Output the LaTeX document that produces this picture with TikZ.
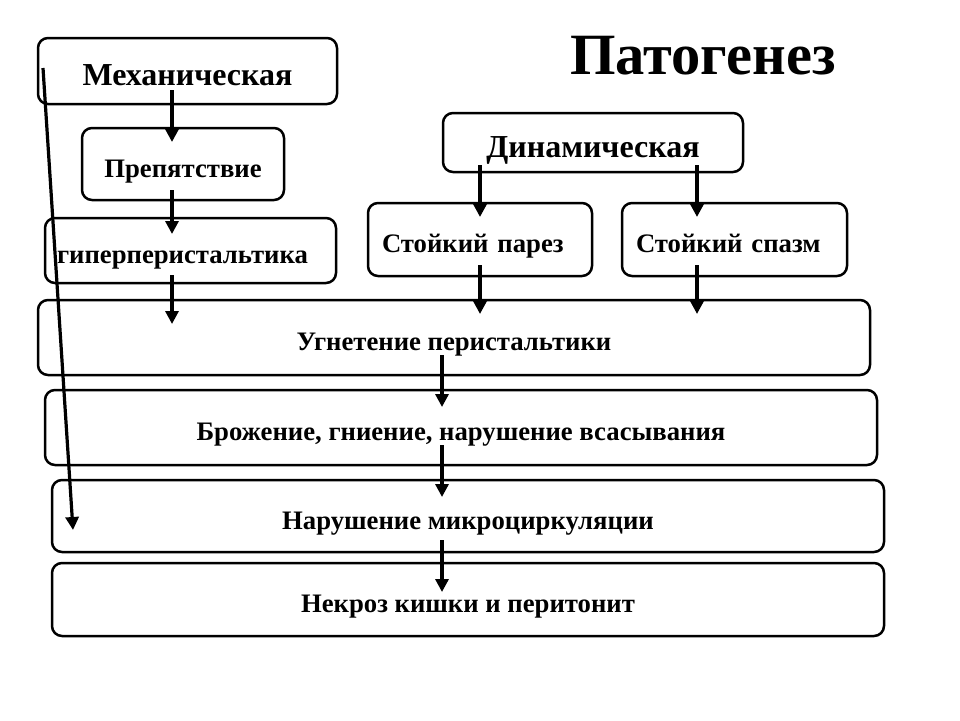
\documentclass[tikz,border=0pt]{standalone}
\usepackage{fontspec}
\setmainfont{Liberation Serif}
\usetikzlibrary{arrows.meta}
\begin{document}
\begin{tikzpicture}[x=1pt,y=-1pt,
  box/.style={draw=black, line width=2.5pt, rounded corners=10pt, fill=white, inner sep=0pt, align=center},
  big/.style={font=\bfseries\fontsize{32}{36}\selectfont, text height=36.5pt, text depth=7.5pt},
  med/.style={font=\bfseries\fontsize{26.7}{30}\selectfont, text height=32pt, text depth=6pt},
  arr/.style={line width=3.2pt, -{Triangle[width=13pt,length=13pt]}}]
\useasboundingbox (0,0) rectangle (960,720);
\node[font=\bfseries\fontsize{58.5}{64}\selectfont] (title) at (703,56) {Патогенез};
\node[box,big,minimum width=299pt,minimum height=66pt] (mech) at (187.5,71) {Механическая};
\node[box,med,minimum width=202pt,minimum height=72pt] (prep) at (183,164) {Препятствие};
\node[box,med,minimum width=291pt,minimum height=65pt] (giper) at (190.5,250.5) {\hspace*{-16pt}гиперперистальтика};
\node[box,big,minimum width=300pt,minimum height=59pt] (dyn) at (593,142.5) {Динамическая};
\node[box,med,minimum width=224pt,minimum height=73pt,text width=196pt,align=left] (pares) at (480,239.5) {Стойкий парез};
\node[box,med,minimum width=225pt,minimum height=73pt,text width=197pt,align=left] (spasm) at (734.5,239.5) {Стойкий спазм};
\node[box,med,minimum width=832pt,minimum height=75pt] (ugn) at (454,337.5) {Угнетение перистальтики};
\node[box,med,minimum width=832pt,minimum height=75pt] (brozh) at (461,427.5) {Брожение, гниение, нарушение всасывания};
\node[box,med,minimum width=832pt,minimum height=72pt] (narush) at (468,516) {Нарушение микроциркуляции};
\node[box,med,minimum width=832pt,minimum height=73pt] (nekr) at (468,599.5) {Некроз кишки и перитонит};
% arrow end points
\path (172,90) coordinate (m1s) (172,142) coordinate (m1e)
      (172,190) coordinate (m2s) (172,234) coordinate (m2e)
      (172,275) coordinate (m3s) (172,324) coordinate (m3e)
      (480,165) coordinate (d1s) (480,217) coordinate (d1e)
      (697,165) coordinate (d2s) (697,217) coordinate (d2e)
      (480,265) coordinate (p1s) (480,314) coordinate (p1e)
      (697,265) coordinate (s1s) (697,314) coordinate (s1e)
      (442,355) coordinate (u1s) (442,407) coordinate (u1e)
      (442,445) coordinate (b1s) (442,497) coordinate (b1e)
      (442,540) coordinate (n1s) (442,592) coordinate (n1e)
      (43,68) coordinate (ls) (73,530) coordinate (le);
\draw[arr] (m1s) -- (m1e);
\draw[arr] (m2s) -- (m2e);
\draw[arr] (m3s) -- (m3e);
\draw[arr] (d1s) -- (d1e);
\draw[arr] (d2s) -- (d2e);
\draw[arr] (p1s) -- (p1e);
\draw[arr] (s1s) -- (s1e);
\draw[arr] (u1s) -- (u1e);
\draw[arr] (b1s) -- (b1e);
\draw[arr] (n1s) -- (n1e);
\draw[arr] (ls) -- (le);
\end{tikzpicture}
\end{document}
